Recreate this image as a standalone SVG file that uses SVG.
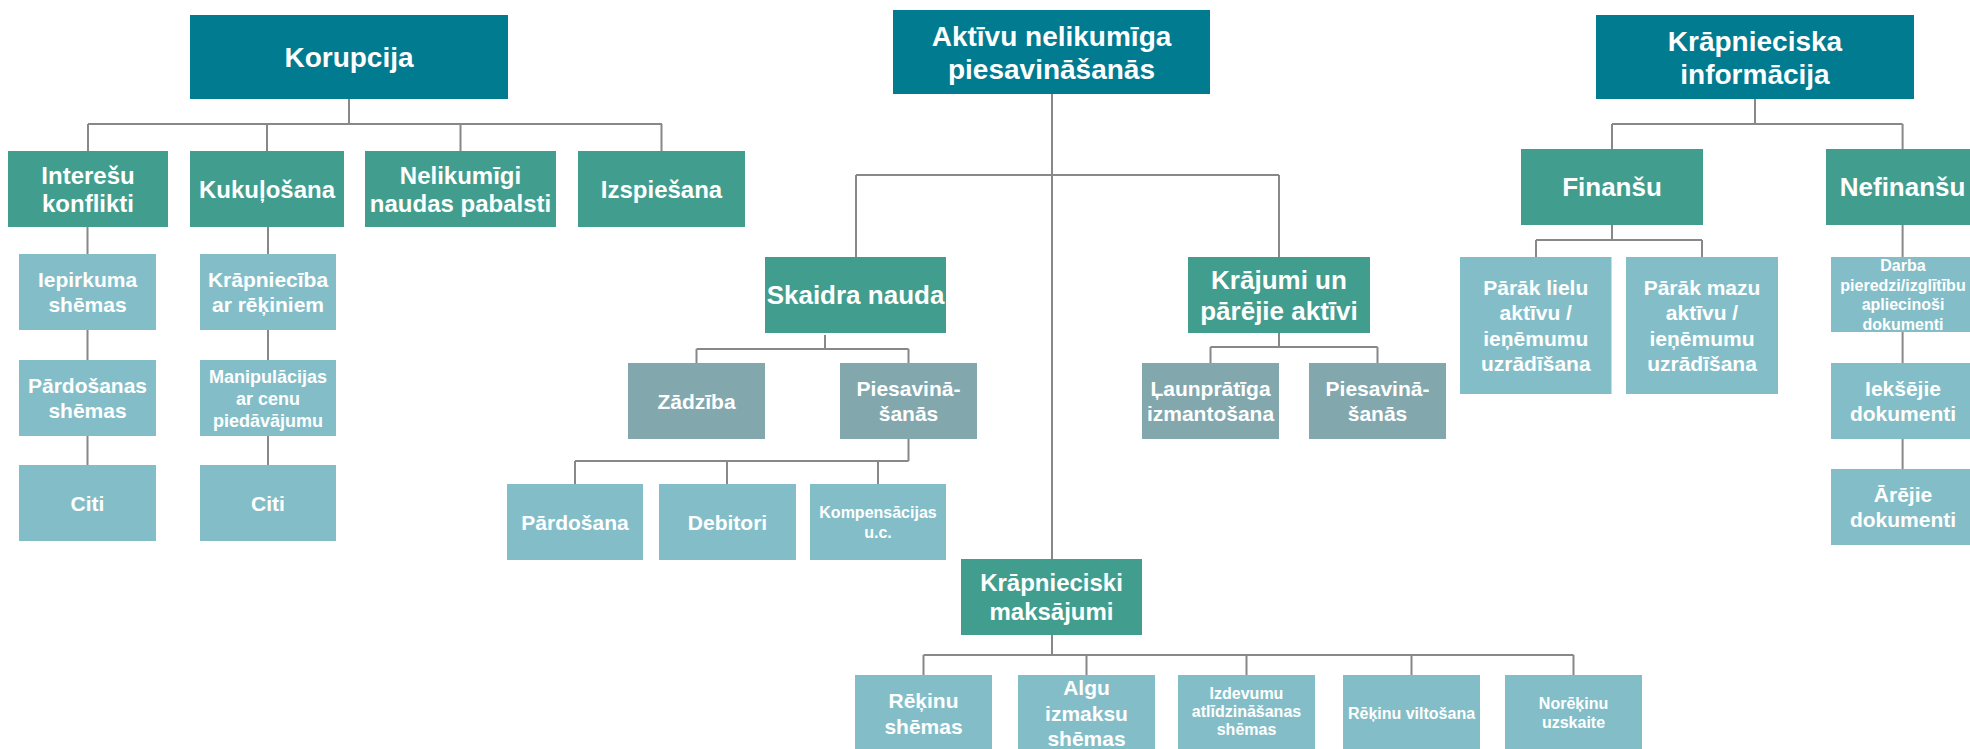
<svg xmlns="http://www.w3.org/2000/svg" width="1970" height="749" viewBox="0 0 1970 749">
<style>
.d{fill:#007B8F}
.g{fill:#419E8F}
.b{fill:#83BEC8}
.s{fill:#82A8AE}
text{font-family:"Liberation Sans",Arial,sans-serif;font-weight:bold;fill:#ffffff;text-anchor:middle}
.t28{font-size:28px}
.t26{font-size:26px}
.t24{font-size:24px}
.t21{font-size:21px}
.t18{font-size:18px}
.t16{font-size:16px}
#connectors path{fill:none;stroke:#888888;stroke-width:2}
</style>
<rect width="1970" height="749" fill="#ffffff"/>
<g id="connectors">
<path d="M349 99V124M88 124H662M88 124V151M267 124V151M460.5 124V151M661.5 124V151"/>
<path d="M87.5 227V254M87.5 330V360M87.5 436V465"/>
<path d="M268 227V254M268 330V360M268 436V465"/>
<path d="M1052 94V559M856 175H1279M856 175V257M1279 175V257"/>
<path d="M825 335V349M696.5 349H908.5M696.5 349V363M908.5 349V363"/>
<path d="M908.5 439V461M575 461H908.5M575 461V484M727 461V484M878 461V484"/>
<path d="M1279 333V347M1210.5 347H1377.5M1210.5 347V363M1377.5 347V363"/>
<path d="M1052 635V655M923.5 655H1573.5M923.5 655V675M1086.5 655V675M1246.5 655V675M1411.5 655V675M1573.5 655V675"/>
<path d="M1755 99V124M1612 124H1902.6M1612 124V149M1902.6 124V149"/>
<path d="M1612 225V240M1536 240H1702M1536 240V257M1702 240V257"/>
<path d="M1902.6 225V257M1902.6 332V363M1902.6 439V469"/>
</g>
<g id="korupcija"><rect class="d" x="190" y="15" width="318" height="84"/><text class="t28" x="349" y="67">Korupcija</text></g>
<g id="aktivu"><rect class="d" x="893" y="10" width="317" height="84"/><text class="t28" x="1051.5" y="45.5">Aktīvu nelikumīga</text><text class="t28" x="1051.5" y="78.5">piesavināšanās</text></g>
<g id="krapn-info"><rect class="d" x="1596" y="15" width="318" height="84"/><text class="t28" x="1755" y="50.5">Krāpnieciska</text><text class="t28" x="1755" y="83.5">informācija</text></g>
<g id="interesu"><rect class="g" x="8" y="151" width="160" height="76"/><text class="t24" x="88" y="183.5">Interešu</text><text class="t24" x="88" y="212">konflikti</text></g>
<g id="kukulosana"><rect class="g" x="190" y="151" width="154" height="76"/><text class="t24" x="267" y="197.5">Kukuļošana</text></g>
<g id="nelikumigi"><rect class="g" x="365" y="151" width="191" height="76"/><text class="t24" x="460.5" y="183.5">Nelikumīgi</text><text class="t24" x="460.5" y="212">naudas pabalsti</text></g>
<g id="izspiesana"><rect class="g" x="578" y="151" width="167" height="76"/><text class="t24" x="661.5" y="197.5">Izspiešana</text></g>
<g id="iepirkuma"><rect class="b" x="19" y="254" width="137" height="76"/><text class="t21" x="87.5" y="286.75">Iepirkuma</text><text class="t21" x="87.5" y="312.25">shēmas</text></g>
<g id="pardosanas"><rect class="b" x="19" y="360" width="137" height="76"/><text class="t21" x="87.5" y="392.75">Pārdošanas</text><text class="t21" x="87.5" y="418.25">shēmas</text></g>
<g id="citi1"><rect class="b" x="19" y="465" width="137" height="76"/><text class="t21" x="87.5" y="510.5">Citi</text></g>
<g id="krapnieciba"><rect class="b" x="200" y="254" width="136" height="76"/><text class="t21" x="268" y="286.75">Krāpniecība</text><text class="t21" x="268" y="312.25">ar rēķiniem</text></g>
<g id="manipulacijas"><rect class="b" x="200" y="360" width="136" height="76"/><text class="t18" x="268" y="382.5">Manipulācijas</text><text class="t18" x="268" y="404.5">ar cenu</text><text class="t18" x="268" y="426.5">piedāvājumu</text></g>
<g id="citi2"><rect class="b" x="200" y="465" width="136" height="76"/><text class="t21" x="268" y="510.5">Citi</text></g>
<g id="skaidra"><rect class="g" x="765" y="257" width="181" height="76"/><text class="t26" x="855.5" y="304.3">Skaidra nauda</text></g>
<g id="krajumi"><rect class="g" x="1188" y="257" width="182" height="76"/><text class="t26" x="1279" y="288.8">Krājumi un</text><text class="t26" x="1279" y="319.8">pārējie aktīvi</text></g>
<g id="zadziba"><rect class="s" x="628" y="363" width="137" height="76"/><text class="t21" x="696.5" y="408.5">Zādzība</text></g>
<g id="piesavinasanas1"><rect class="s" x="840" y="363" width="137" height="76"/><text class="t21" x="908.5" y="395.75">Piesavinā-</text><text class="t21" x="908.5" y="421.25">šanās</text></g>
<g id="pardosana"><rect class="b" x="507" y="484" width="136" height="76"/><text class="t21" x="575" y="529.5">Pārdošana</text></g>
<g id="debitori"><rect class="b" x="659" y="484" width="137" height="76"/><text class="t21" x="727.5" y="529.5">Debitori</text></g>
<g id="kompensacijas"><rect class="b" x="810" y="484" width="136" height="76"/><text class="t16" x="878" y="517.7">Kompensācijas</text><text class="t16" x="878" y="537.7">u.c.</text></g>
<g id="launpratiga"><rect class="s" x="1142" y="363" width="137" height="76"/><text class="t21" x="1210.5" y="395.75">Ļaunprātīga</text><text class="t21" x="1210.5" y="421.25">izmantošana</text></g>
<g id="piesavinasanas2"><rect class="s" x="1309" y="363" width="137" height="76"/><text class="t21" x="1377.5" y="395.75">Piesavinā-</text><text class="t21" x="1377.5" y="421.25">šanās</text></g>
<g id="krapn-maks"><rect class="g" x="961" y="559" width="181" height="76"/><text class="t24" x="1051.5" y="591.4">Krāpnieciski</text><text class="t24" x="1051.5" y="619.9">maksājumi</text></g>
<g id="rekinu-shemas"><rect class="b" x="855" y="675" width="137" height="76"/><text class="t21" x="923.5" y="708">Rēķinu</text><text class="t21" x="923.5" y="733.5">shēmas</text></g>
<g id="algu"><rect class="b" x="1018" y="675" width="137" height="76"/><text class="t21" x="1086.5" y="695">Algu</text><text class="t21" x="1086.5" y="720.5">izmaksu</text><text class="t21" x="1086.5" y="746">shēmas</text></g>
<g id="izdevumu"><rect class="b" x="1178" y="675" width="137" height="76"/><text class="t16" x="1246.5" y="698.5">Izdevumu</text><text class="t16" x="1246.5" y="716.5">atlīdzināšanas</text><text class="t16" x="1246.5" y="734.5">shēmas</text></g>
<g id="rekinu-viltosana"><rect class="b" x="1343" y="675" width="137" height="76"/><text class="t16" x="1411.5" y="719">Rēķinu viltošana</text></g>
<g id="norekinu"><rect class="b" x="1505" y="675" width="137" height="76"/><text class="t16" x="1573.5" y="709">Norēķinu</text><text class="t16" x="1573.5" y="728">uzskaite</text></g>
<g id="finansu"><rect class="g" x="1521" y="149" width="182" height="76"/><text class="t26" x="1612" y="196.3">Finanšu</text></g>
<g id="nefinansu"><rect class="g" x="1826" y="149" width="154" height="76"/><text class="t26" x="1902.6" y="196.3">Nefinanšu</text></g>
<g id="parak-lielu"><rect class="b" x="1460" y="257" width="151.5" height="137"/><text class="t21" x="1535.75" y="294.75">Pārāk lielu</text><text class="t21" x="1535.75" y="320.25">aktīvu /</text><text class="t21" x="1535.75" y="345.75">ieņēmumu</text><text class="t21" x="1535.75" y="371.25">uzrādīšana</text></g>
<g id="parak-mazu"><rect class="b" x="1626" y="257" width="152" height="137"/><text class="t21" x="1702" y="294.75">Pārāk mazu</text><text class="t21" x="1702" y="320.25">aktīvu /</text><text class="t21" x="1702" y="345.75">ieņēmumu</text><text class="t21" x="1702" y="371.25">uzrādīšana</text></g>
<g id="darba"><rect class="b" x="1831" y="257" width="144" height="75"/><text class="t16" x="1903" y="271">Darba</text><text class="t16" x="1903" y="290.5">pieredzi/izglītību</text><text class="t16" x="1903" y="310">apliecinoši</text><text class="t16" x="1903" y="329.5">dokumenti</text></g>
<g id="ieksejie"><rect class="b" x="1831" y="363" width="144" height="76"/><text class="t21" x="1903" y="395.75">Iekšējie</text><text class="t21" x="1903" y="421.25">dokumenti</text></g>
<g id="arejie"><rect class="b" x="1831" y="469" width="144" height="76"/><text class="t21" x="1903" y="501.75">Ārējie</text><text class="t21" x="1903" y="527.25">dokumenti</text></g>
</svg>
